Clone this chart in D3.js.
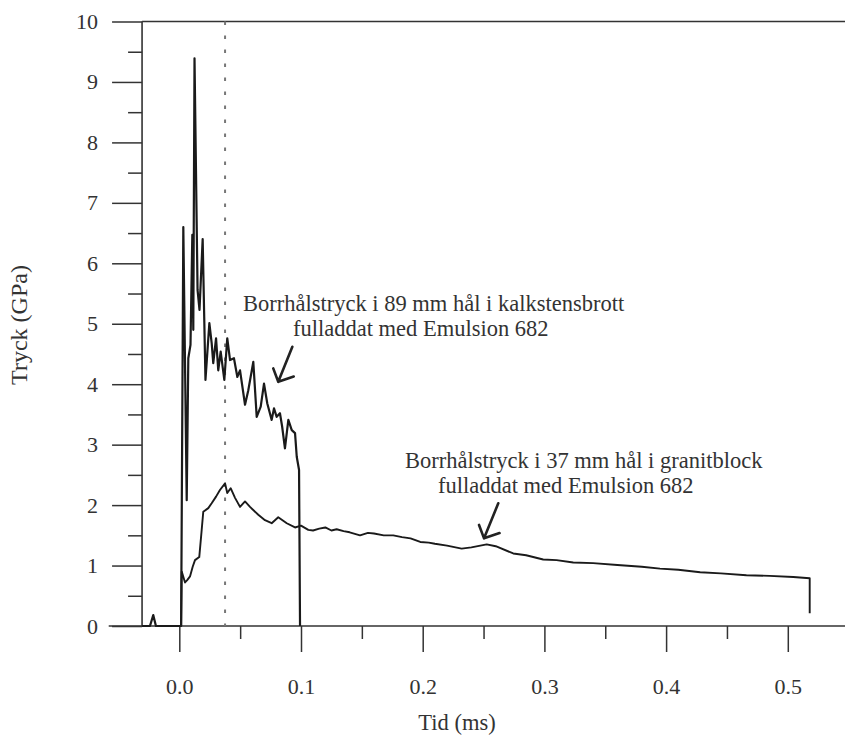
<!DOCTYPE html>
<html>
<head>
<meta charset="utf-8">
<script src="https://cdn.jsdelivr.net/npm/d3@7"></script>
<style>
  body { margin: 0; background: #fff; }
  svg text { font-family: "Liberation Serif", "Times New Roman", serif; fill: #333; }
</style>
</head>
<body>
<div id="chart"></div>
<script>
// time (ms) / pressure (GPa)
const kalkTime = [-0.0306, -0.0241, -0.0214, -0.0192, 0.0015, 0.0033, 0.0061, 0.0074, 0.0092, 0.0107, 0.0115,
  0.0125, 0.015, 0.0166, 0.0192, 0.0215, 0.0247, 0.0266, 0.0279, 0.0302, 0.032, 0.034, 0.037, 0.0394, 0.0417,
  0.0449, 0.0477, 0.0499, 0.054, 0.0567, 0.0608, 0.0636, 0.0669, 0.0696, 0.0723, 0.0759, 0.0778, 0.08, 0.0827,
  0.0845, 0.0868, 0.0896, 0.0924, 0.0951, 0.0965, 0.0984, 0.0992]
const kalkPressure = [0, 0, 0.18, 0, 0, 6.6, 2.08, 4.43, 4.65, 6.47, 4.9,
  9.39, 5.56, 5.23, 6.4, 4.07, 5.01, 4.68, 4.35, 4.76, 4.23, 4.54, 4.07, 4.76, 4.4,
  4.43, 4.12, 4.23, 3.66, 3.9, 4.37, 3.46, 3.63, 4.01, 3.68, 3.41, 3.6, 3.46, 3.52,
  3.3, 2.94, 3.41, 3.24, 3.19, 2.8, 2.58, 0]

const granitTime = [0.0015, 0.002, 0.0047, 0.0065, 0.0088, 0.011, 0.0129, 0.0164, 0.0184, 0.0197, 0.0238,
  0.0266, 0.0302, 0.0334, 0.0376, 0.0394, 0.0422, 0.0458, 0.0499, 0.054, 0.0581, 0.0649, 0.0704, 0.0759,
  0.0813, 0.0883, 0.0951, 0.1, 0.106, 0.1099, 0.115, 0.12, 0.125, 0.1293, 0.135, 0.14, 0.1485, 0.155, 0.16,
  0.168, 0.1758, 0.183, 0.19, 0.198, 0.205, 0.21, 0.22, 0.232, 0.24, 0.2526, 0.26, 0.2744, 0.285, 0.299,
  0.31, 0.3237, 0.34, 0.36, 0.38, 0.395, 0.41, 0.428, 0.445, 0.466, 0.485, 0.5045, 0.518, 0.518]
const granitPressure = [0, 0.9, 0.72, 0.76, 0.82, 0.98, 1.09, 1.14, 1.59, 1.89, 1.95,
  2.03, 2.14, 2.25, 2.36, 2.2, 2.28, 2.12, 1.97, 2.06, 1.97, 1.84, 1.75, 1.7,
  1.8, 1.7, 1.63, 1.66, 1.59, 1.58, 1.61, 1.63, 1.58, 1.6, 1.57, 1.55, 1.5, 1.54, 1.53,
  1.5, 1.5, 1.47, 1.45, 1.39, 1.38, 1.36, 1.33, 1.28, 1.3, 1.35, 1.32, 1.2, 1.17, 1.1,
  1.09, 1.05, 1.04, 1.01, 0.98, 0.95, 0.93, 0.89, 0.87, 0.84, 0.83, 0.81, 0.79, 0.21]

const xMajor = [0, 0.1, 0.2, 0.3, 0.4, 0.5]
const xMinor = [0.05, 0.15, 0.25, 0.35, 0.45]
const yMajor = [0, 1, 2, 3, 4, 5, 6, 7, 8, 9, 10]
const yMinor = [0.5, 1.5, 2.5, 3.5, 4.5, 5.5, 6.5, 7.5, 8.5, 9.5]
const markerTime = 0.0376

const annotations = [
  {lines: ['Borrhålstryck i 89 mm hål i kalkstensbrott', 'fulladdat med Emulsion 682'], x: [243, 293], y: 311,
    tip: [0.0813, 4.04], tail: [0.0929, 4.62]},
  {lines: ['Borrhålstryck i 37 mm hål i granitblock', 'fulladdat med Emulsion 682'], x: [405, 438], y: 468,
    tip: [0.2504, 1.45], tail: [0.2621, 2.03]}
]

const width = 845
const height = 742

const x = d3.scaleLinear().domain([0, 0.5]).range([179.3, 787.8])
const y = d3.scaleLinear().domain([0, 10]).range([626, 21.5])
const yAxisAt = x(-0.0306)

const svg = d3.select('#chart')
  .append('svg')
  .attr('width', width)
  .attr('height', height)

const axisColor = '#333'

// frame: x axis line, y axis line, top line
svg.append('line')
  .attr('x1', x(-0.058)).attr('x2', width)
  .attr('y1', y(0)).attr('y2', y(0))
  .attr('stroke', axisColor).attr('stroke-width', 1.6)
svg.append('line')
  .attr('x1', yAxisAt).attr('x2', yAxisAt)
  .attr('y1', y(10)).attr('y2', y(0))
  .attr('stroke', axisColor).attr('stroke-width', 1.6)
svg.append('line')
  .attr('x1', yAxisAt).attr('x2', width)
  .attr('y1', y(10)).attr('y2', y(10))
  .attr('stroke', axisColor).attr('stroke-width', 1.6)

const styleAxis = (g) => {
  g.select('.domain').remove()
  g.selectAll('line').attr('stroke', axisColor).attr('stroke-width', 1.5)
  g.selectAll('text').attr('font-size', 22).style('font-family', '"Liberation Serif", serif').attr('fill', '#333')
}

svg.append('g')
  .attr('transform', `translate(0,${y(0)})`)
  .call(d3.axisBottom(x).tickValues(xMajor).tickSize(26).tickPadding(26).tickFormat(d3.format('.1f')))
  .call(styleAxis)
svg.append('g')
  .attr('transform', `translate(0,${y(0)})`)
  .call(d3.axisBottom(x).tickValues(xMinor).tickSize(13).tickFormat(''))
  .call(styleAxis)

svg.append('g')
  .attr('transform', `translate(${yAxisAt},0)`)
  .call(d3.axisLeft(y).tickValues(yMajor).tickSize(30).tickPadding(14).tickFormat(d3.format('d')))
  .call(styleAxis)
svg.append('g')
  .attr('transform', `translate(${yAxisAt},0)`)
  .call(d3.axisLeft(y).tickValues(yMinor).tickSize(14).tickFormat(''))
  .call(styleAxis)

// dotted marker line
svg.append('line')
  .attr('x1', x(markerTime)).attr('x2', x(markerTime))
  .attr('y1', y(10)).attr('y2', y(0))
  .attr('stroke', '#777').attr('stroke-width', 2)
  .attr('stroke-dasharray', '3.5,10.5')

const line = d3.line()
  .x((d) => x(d[0]))
  .y((d) => y(d[1]))

svg.append('path')
  .datum(d3.zip(granitTime, granitPressure))
  .attr('d', line)
  .attr('fill', 'none')
  .attr('stroke', '#1a1a1a')
  .attr('stroke-width', 1.9)
  .attr('stroke-linejoin', 'round')

svg.append('path')
  .datum(d3.zip(kalkTime, kalkPressure))
  .attr('d', line)
  .attr('fill', 'none')
  .attr('stroke', '#1a1a1a')
  .attr('stroke-width', 2.2)
  .attr('stroke-linejoin', 'round')

// annotations with hand drawn arrows
annotations.forEach((a) => {
  const t = svg.append('g')
  a.lines.forEach((l, i) => {
    t.append('text')
      .attr('x', a.x[i])
      .attr('y', a.y + i * 25)
      .attr('font-size', 22.5)
      .text(l)
  })
  const tx = x(a.tip[0])
  const ty = y(a.tip[1])
  svg.append('path')
    .attr('d', `M${x(a.tail[0])},${y(a.tail[1])}L${tx},${ty}M${tx - 5},${ty - 13.4}L${tx},${ty}L${tx + 15.5},${ty - 5.3}`)
    .attr('fill', 'none')
    .attr('stroke', '#222')
    .attr('stroke-width', 2.6)
    .attr('stroke-linecap', 'round')
    .attr('stroke-linejoin', 'round')
})

svg.append('text')
  .attr('x', 457)
  .attr('y', 730)
  .attr('text-anchor', 'middle')
  .attr('font-size', 22.5)
  .text('Tid (ms)')

svg.append('text')
  .attr('transform', 'translate(27,325) rotate(-90)')
  .attr('text-anchor', 'middle')
  .attr('font-size', 24)
  .text('Tryck (GPa)')
</script>
</body>
</html>
